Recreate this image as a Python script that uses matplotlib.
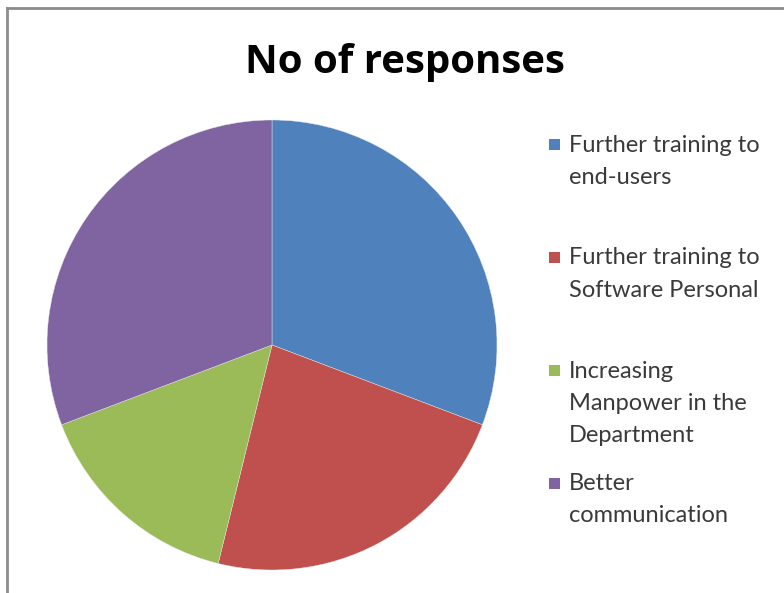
import matplotlib
matplotlib.use("Agg")
import matplotlib.pyplot as plt
from matplotlib.patches import Rectangle
from matplotlib.lines import Line2D

categories = [
    "Further training to\nend-users",
    "Further training to\nSoftware Personal",
    "Increasing\nManpower in the\nDepartment",
    "Better\ncommunication",
]
responses = [8, 6, 4, 8]
colors = ["#4F81BD", "#C0504D", "#9BBB59", "#8064A2"]

W, H = 784, 593
fig = plt.figure(figsize=(W / 100, H / 100), dpi=100)
fig.patch.set_facecolor("white")

# chart-area frame (top and left edges)
fig.add_artist(Line2D([7 / W, 7 / W], [0, 1 - 8 / H], color="#8c8c8c", lw=2.0))
fig.add_artist(Line2D([7 / W, 1], [1 - 8 / H, 1 - 8 / H], color="#8c8c8c", lw=2.0))

# pie: centre (272, 345) px, radius 225 px
cx, cy, r = 272, 345, 225
ax = fig.add_axes([(cx - r) / W, (H - cy - r) / H, 2 * r / W, 2 * r / H])
ax.pie(responses, colors=colors, startangle=90, counterclock=False,
       radius=1.0, wedgeprops=dict(linewidth=0.3, edgecolor="#e8e8e8"))
ax.set_xlim(-1, 1)
ax.set_ylim(-1, 1)
ax.set_aspect("equal")
ax.axis("off")

fig.text(405 / W, 1 - 62 / H, "No of responses", ha="center", va="center",
         fontsize=29, fontweight="bold", family="Open Sans", color="black")

# legend entries
entry_tops = [145, 258, 371, 484]
line_gap = 32
for label, col, y0 in zip(categories, colors, entry_tops):
    fig.add_artist(Rectangle((549 / W, 1 - (y0 + 5) / H), 11 / W, 11 / H,
                             facecolor=col, edgecolor="none", transform=fig.transFigure))
    for i, line in enumerate(label.split("\n")):
        fig.text(569 / W, 1 - (y0 + i * line_gap) / H, line, ha="left", va="center",
                 fontsize=17, family="Lato", color="#3a3a3a")

fig.savefig("out.png", dpi=100)
